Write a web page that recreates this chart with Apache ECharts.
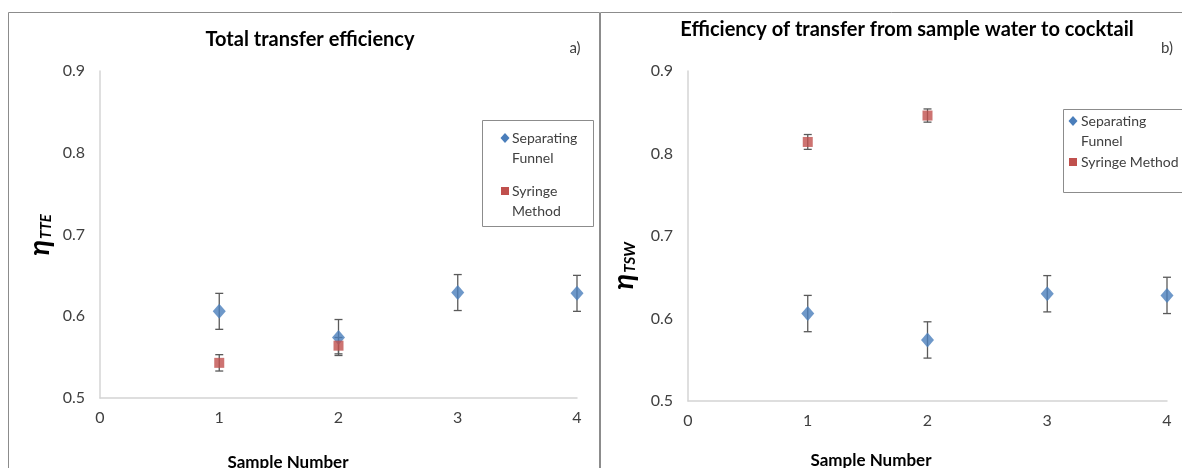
<!DOCTYPE html>
<html>
<head>
<meta charset="utf-8">
<script src="https://cdn.jsdelivr.net/npm/echarts@6/dist/echarts.min.js"></script>
<style>
  html, body { margin: 0; padding: 0; background: #ffffff; }
  #chart { width: 1182px; height: 468px; }
</style>
</head>
<body>
<div id="chart"></div>
<script>
// Sample numbers on the x axis
const funnelSamples = [1, 2, 3, 4];
const syringeSamples = [1, 2];

// a) Total transfer efficiency
const funnelTTE = [0.606, 0.574, 0.629, 0.628];
const funnelTTEErr = [0.022, 0.022, 0.022, 0.022];
const syringeTTE = [0.543, 0.564];
const syringeTTEErr = [0.010, 0.010];

// b) Transfer from sample water to cocktail
const funnelTSW = [0.606, 0.574, 0.630, 0.628];
const funnelTSWErr = [0.022, 0.022, 0.022, 0.022];
const syringeTSW = [0.814, 0.846];
const syringeTSWErr = [0.009, 0.008];

const titles = ['Total transfer efficiency', 'Efficiency of transfer from sample water to cocktail'];
const panelTags = ['a)', 'b)'];
const seriesNames = ['Separating Funnel', 'Syringe Method'];

const BLUE = '#4a7ebb';
const RED = '#c0504d';
const FONT = 'Lato, "Open Sans", sans-serif';

function points(xs, ys) { return xs.map((x, i) => [x, ys[i]]); }
function bars(xs, ys, es) { return xs.map((x, i) => [x, ys[i] - es[i], ys[i] + es[i]]); }

// Vertical error bars with short caps, drawn in data coordinates
function errorBars(idx, data) {
  return {
    type: 'custom',
    name: 'error',
    xAxisIndex: idx, yAxisIndex: idx,
    z: 1, silent: true,
    data: data,
    renderItem: function (params, api) {
      const x = api.value(0);
      const lo = api.coord([x, api.value(1)]);
      const hi = api.coord([x, api.value(2)]);
      const cap = 4;
      const st = { stroke: '#5a5a5a', lineWidth: 1.3 };
      return {
        type: 'group',
        children: [
          { type: 'line', shape: { x1: lo[0], y1: lo[1], x2: hi[0], y2: hi[1] }, style: st },
          { type: 'line', shape: { x1: lo[0] - cap, y1: lo[1], x2: lo[0] + cap, y2: lo[1] }, style: st },
          { type: 'line', shape: { x1: hi[0] - cap, y1: hi[1], x2: hi[0] + cap, y2: hi[1] }, style: st }
        ]
      };
    }
  };
}

function xAxisFor(idx) {
  return {
    type: 'value', gridIndex: idx, min: 0, max: 4, interval: 1,
    axisLine: { lineStyle: { color: '#d4d4d4', width: 1.5 } },
    axisTick: { show: false }, splitLine: { show: false },
    axisLabel: { color: '#404040', fontSize: 16, fontFamily: FONT, margin: 12 }
  };
}
function yAxisFor(idx) {
  return {
    type: 'value', gridIndex: idx, min: 0.5, max: 0.9, interval: 0.1,
    axisLine: { show: true, lineStyle: { color: '#d4d4d4', width: 1.5 } },
    axisTick: { show: false }, splitLine: { show: false },
    axisLabel: { color: '#404040', fontSize: 16, fontFamily: FONT, margin: 15,
      formatter: v => v.toFixed(1) }
  };
}

function etaLabel(x, y, sub) {
  return {
    type: 'text', x: x, y: y, rotation: Math.PI / 2,
    style: {
      text: '{e|η}{s|' + sub + '}',
      align: 'center', verticalAlign: 'middle',
      rich: {
        e: { fontSize: 29, fontWeight: 'bold', fontStyle: 'italic', fontFamily: FONT, fill: '#000' },
        s: { fontSize: 15, fontWeight: 'bold', fontStyle: 'italic', fontFamily: FONT, fill: '#000', padding: [12, 0, 0, 1] }
      }
    }
  };
}
function plainText(x, y, text, size, bold, align) {
  return {
    type: 'text', x: x, y: y,
    style: { text: text, fontSize: size, fontWeight: bold ? 'bold' : 'normal', fontFamily: FONT,
      fill: bold ? '#000' : '#404040', align: align || 'center', verticalAlign: 'middle' }
  };
}

// Legend drawn as a framed box: symbol beside the first text line
function legendBox(box, rows) {
  const children = [{
    type: 'rect', shape: { x: box.x + 0.5, y: box.y + 0.5, width: box.w, height: box.h },
    style: { fill: '#fff', stroke: '#8c8c8c', lineWidth: 1 }
  }];
  rows.forEach(r => {
    if (r.symbol === 'diamond') {
      children.push({ type: 'polygon', shape: { points: [[r.sx, r.y - 5], [r.sx + 4.5, r.y], [r.sx, r.y + 5], [r.sx - 4.5, r.y]] },
        style: { fill: BLUE } });
    } else {
      children.push({ type: 'rect', shape: { x: r.sx - 4, y: r.y - 4, width: 8, height: 8 }, style: { fill: RED } });
    }
    r.lines.forEach((t, i) => children.push(plainText(r.tx, r.y + i * 20, t, 14, false, 'left')));
  });
  return { type: 'group', z: 10, silent: true, children: children };
}

const option = {
  backgroundColor: '#ffffff',
  animation: false,
  title: [
    { text: titles[0], left: 305, top: 25, textAlign: 'center',
      textStyle: { fontSize: 20, fontWeight: 'bold', fontFamily: FONT, color: '#000' } },
    { text: titles[1], left: 902, top: 15, textAlign: 'center',
      textStyle: { fontSize: 20, fontWeight: 'bold', fontFamily: FONT, color: '#000' } }
  ],
  grid: [
    { left: 100, top: 71, width: 477, height: 327 },
    { left: 688, top: 71, width: 479, height: 330 }
  ],
  xAxis: [xAxisFor(0), xAxisFor(1)],
  yAxis: [yAxisFor(0), yAxisFor(1)],
  series: [
    errorBars(0, bars(funnelSamples, funnelTTE, funnelTTEErr)),
    errorBars(0, bars(syringeSamples, syringeTTE, syringeTTEErr)),
    { type: 'scatter', name: seriesNames[0], xAxisIndex: 0, yAxisIndex: 0, z: 3,
      symbol: 'diamond', symbolSize: [13, 15], itemStyle: { color: BLUE },
      data: points(funnelSamples, funnelTTE) },
    { type: 'scatter', name: seriesNames[1], xAxisIndex: 0, yAxisIndex: 0, z: 3,
      symbol: 'rect', symbolSize: 10, itemStyle: { color: RED },
      data: points(syringeSamples, syringeTTE) },

    errorBars(1, bars(funnelSamples, funnelTSW, funnelTSWErr)),
    errorBars(1, bars(syringeSamples, syringeTSW, syringeTSWErr)),
    { type: 'scatter', name: seriesNames[0], xAxisIndex: 1, yAxisIndex: 1, z: 3,
      symbol: 'diamond', symbolSize: [13, 15], itemStyle: { color: BLUE },
      data: points(funnelSamples, funnelTSW) },
    { type: 'scatter', name: seriesNames[1], xAxisIndex: 1, yAxisIndex: 1, z: 3,
      symbol: 'rect', symbolSize: 10, itemStyle: { color: RED },
      data: points(syringeSamples, syringeTSW) }
  ],
  graphic: [
    // panel frames
    { type: 'rect', shape: { x: 8.5, y: 12.5, width: 591, height: 470 }, style: { fill: null, stroke: '#8c8c8c', lineWidth: 1 }, silent: true },
    { type: 'rect', shape: { x: 600.5, y: 12.5, width: 600, height: 470 }, style: { fill: null, stroke: '#8c8c8c', lineWidth: 1 }, silent: true },
    plainText(575, 48, panelTags[0], 15, false),
    plainText(1167, 48, panelTags[1], 15, false),
    plainText(288, 463, 'Sample Number', 17, true),
    plainText(871, 461, 'Sample Number', 17, true),
    etaLabel(40, 235, 'TTE'),
    etaLabel(624, 266, 'TSW'),
    legendBox({ x: 482, y: 120, w: 111, h: 106 }, [
      { symbol: 'diamond', sx: 505, tx: 512, y: 138, lines: ['Separating', 'Funnel'] },
      { symbol: 'rect', sx: 505, tx: 512, y: 191, lines: ['Syringe', 'Method'] }
    ]),
    legendBox({ x: 1063, y: 109, w: 140, h: 83 }, [
      { symbol: 'diamond', sx: 1073, tx: 1081, y: 121, lines: ['Separating', 'Funnel'] },
      { symbol: 'rect', sx: 1073, tx: 1081, y: 162, lines: ['Syringe Method'] }
    ])
  ]
};

const chart = echarts.init(document.getElementById('chart'), null, { renderer: 'canvas' });
chart.setOption(option);
</script>
</body>
</html>
